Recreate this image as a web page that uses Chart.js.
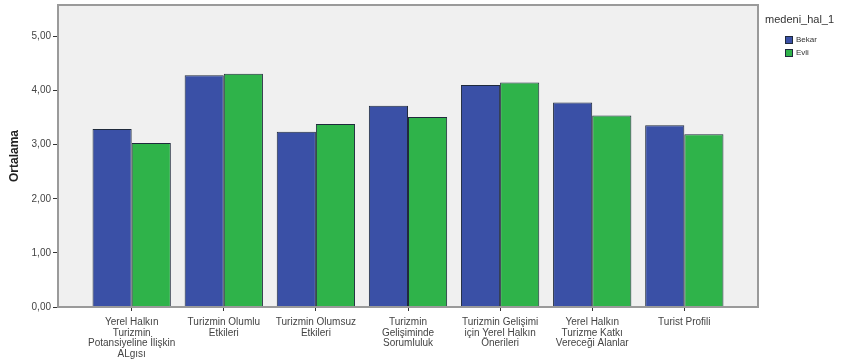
<!DOCTYPE html>
<html>
<head>
<meta charset="utf-8">
<script src="https://cdn.jsdelivr.net/npm/chart.js@4"></script>
<style>
  html, body { margin: 0; padding: 0; background: #ffffff; }
  #wrap { width: 845px; height: 360px; }
</style>
</head>
<body>
<div id="wrap"><canvas id="meanChart" width="845" height="360"></canvas></div>
<script>
// Group means by marital status (Ortalama)
const categories = [
    ['Yerel Halkın', 'Turizmin', 'Potansiyeline İlişkin', 'ALgısı'],
    ['Turizmin Olumlu', 'Etkileri'],
    ['Turizmin Olumsuz', 'Etkileri'],
    ['Turizmin', 'Gelişiminde', 'Sorumluluk'],
    ['Turizmin Gelişimi', 'için Yerel Halkın', 'Önerileri'],
    ['Yerel Halkın', 'Turizme Katkı', 'Vereceği Alanlar'],
    ['Turist Profili']
];
const seriesNames = ['Bekar', 'Evli'];
const bekarMeans = [3.29, 4.28, 3.24, 3.72, 4.10, 3.78, 3.36];
const evliMeans = [3.03, 4.31, 3.38, 3.51, 4.15, 3.54, 3.19];
const yTicks = [0, 1, 2, 3, 4, 5];
const legendTitle = 'medeni_hal_1';
const yTitle = 'Ortalama';

const seriesColors = ['#3a50a6', '#2fb34a'];
const FONT = '"Liberation Sans", Arial, sans-serif';

function toPoints(values) {
    return values.map((v, i) => ({ x: i, y: v }));
}

// grey plot background + frame, painted behind the bars
const plotFrame = {
    id: 'plotFrame',
    beforeDatasetsDraw(chart) {
        const { ctx, chartArea: a } = chart;
        ctx.save();
        ctx.fillStyle = '#f0f0f0';
        ctx.fillRect(a.left, a.top, a.right - a.left, a.bottom - a.top);
        ctx.restore();
    },
    afterDraw(chart) {
        const { ctx, chartArea: a } = chart;
        ctx.save();
        ctx.strokeStyle = '#9a9a9a';
        ctx.lineWidth = 2;
        ctx.strokeRect(a.left, a.top, a.right - a.left, a.bottom - a.top);
        ctx.restore();
    }
};

// legend block to the right of the plot
const sideLegend = {
    id: 'sideLegend',
    afterDraw(chart) {
        const { ctx } = chart;
        ctx.save();
        ctx.textBaseline = 'middle';
        ctx.textAlign = 'left';
        ctx.fillStyle = '#333333';
        ctx.font = '11px ' + FONT;
        ctx.fillText(legendTitle, 765, 20);
        ctx.font = '8px ' + FONT;
        chart.data.datasets.forEach((ds, i) => {
            const y = 36 + i * 13;
            ctx.fillStyle = ds.backgroundColor;
            ctx.fillRect(785, y, 8, 8);
            ctx.strokeStyle = '#1f2a3c';
            ctx.lineWidth = 1;
            ctx.strokeRect(785.5, y + 0.5, 7, 7);
            ctx.fillStyle = '#333333';
            ctx.fillText(ds.label, 796, y + 4);
        });
        ctx.restore();
    }
};

new Chart(document.getElementById('meanChart'), {
    type: 'bar',
    data: {
        datasets: [
            {
                label: seriesNames[0],
                data: toPoints(bekarMeans),
                backgroundColor: seriesColors[0],
                borderColor: '#1f2a3c',
                borderWidth: 1
            },
            {
                label: seriesNames[1],
                data: toPoints(evliMeans),
                backgroundColor: seriesColors[1],
                borderColor: '#1f2a3c',
                borderWidth: 1
            }
        ]
    },
    options: {
        responsive: false,
        animation: false,
        events: [],
        layout: { padding: { top: 5, right: 87, bottom: 0, left: 0 } },
        categoryPercentage: 0.85,
        barPercentage: 1.0,
        plugins: {
            legend: { display: false },
            tooltip: { enabled: false }
        },
        scales: {
            x: {
                type: 'linear',
                min: -0.8,
                max: 6.8,
                offset: false,
                afterBuildTicks(scale) {
                    scale.ticks = categories.map((c, i) => ({ value: i }));
                },
                afterFit(scale) {
                    scale.height = 53;
                    scale.paddingLeft = 0;
                    scale.paddingRight = 0;
                },
                ticks: {
                    autoSkip: false,
                    maxRotation: 0,
                    padding: 6,
                    color: '#444444',
                    font: { family: FONT, size: 10, lineHeight: 1.05 },
                    callback: (value) => categories[value]
                },
                grid: {
                    offset: false,
                    drawOnChartArea: false,
                    drawTicks: true,
                    tickLength: 4,
                    tickColor: '#333333'
                },
                border: { display: false }
            },
            y: {
                min: 0,
                max: 5.58,
                afterBuildTicks(scale) {
                    scale.ticks = yTicks.map(v => ({ value: v }));
                },
                afterFit(scale) {
                    scale.width = 58;
                    scale.paddingTop = 0;
                    scale.paddingBottom = 0;
                },
                ticks: {
                    padding: 2,
                    color: '#444444',
                    font: { family: FONT, size: 10 },
                    callback: (value) => value.toFixed(2).replace('.', ',')
                },
                grid: {
                    drawOnChartArea: false,
                    drawTicks: true,
                    tickLength: 5,
                    tickColor: '#333333'
                },
                border: { display: false },
                title: {
                    display: true,
                    text: yTitle,
                    color: '#222222',
                    font: { family: FONT, size: 12, weight: 'bold' },
                    padding: { top: 7, bottom: 0 }
                }
            }
        }
    },
    plugins: [plotFrame, sideLegend]
});
</script>
</body>
</html>
